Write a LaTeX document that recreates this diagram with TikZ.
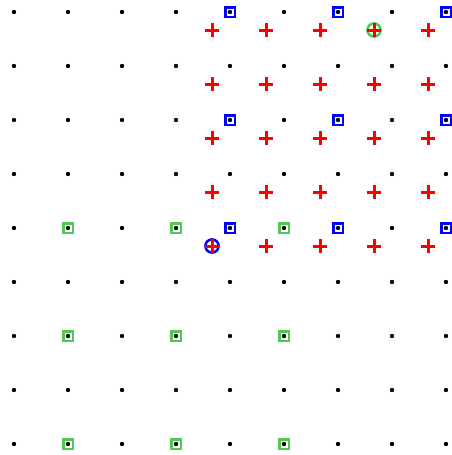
\documentclass[tikz,border=0pt]{standalone}
\definecolor{mkgreen}{RGB}{80,200,80}
\definecolor{mkblue}{RGB}{0,0,255}
\definecolor{mkred}{RGB}{255,0,0}
\tikzset{
  sqmark/.style={line width=2.6pt},
  plusmark/.style={line width=3pt, mkred},
  ringmark/.style={line width=2.5pt},
}
\begin{document}
\begin{tikzpicture}[x=1pt,y=-1pt]
\useasboundingbox (0,0) rectangle (451,455);
% blue squares
\foreach \x in {230,338,446}
  \foreach \y in {12,120,228}
    \draw[sqmark, mkblue] (\x-4.8,\y-4.8) rectangle (\x+4.8,\y+4.8);
% green squares
\foreach \x in {68,176,284}
  \foreach \y in {228,336,444}
    \draw[sqmark, mkgreen] (\x-4.8,\y-4.8) rectangle (\x+4.8,\y+4.8);
% dots
\foreach \x in {14,68,122,176,230,284,338,392,446}
  \foreach \y in {12,66,120,174,228,282,336,390,444}
    \fill[black] (\x,\y) circle (2.2);
% rings
\draw[ringmark, mkgreen] (374,30) circle (6.6);
\draw[ringmark, mkblue] (212,246) circle (6.6);
% plus marks
\foreach \x in {212,266,320,374,428}
  \foreach \y in {30,84,138,192,246}
    \draw[plusmark] (\x-6.8,\y) -- (\x+6.8,\y) (\x,\y-6.8) -- (\x,\y+6.8);
\end{tikzpicture}
\end{document}
